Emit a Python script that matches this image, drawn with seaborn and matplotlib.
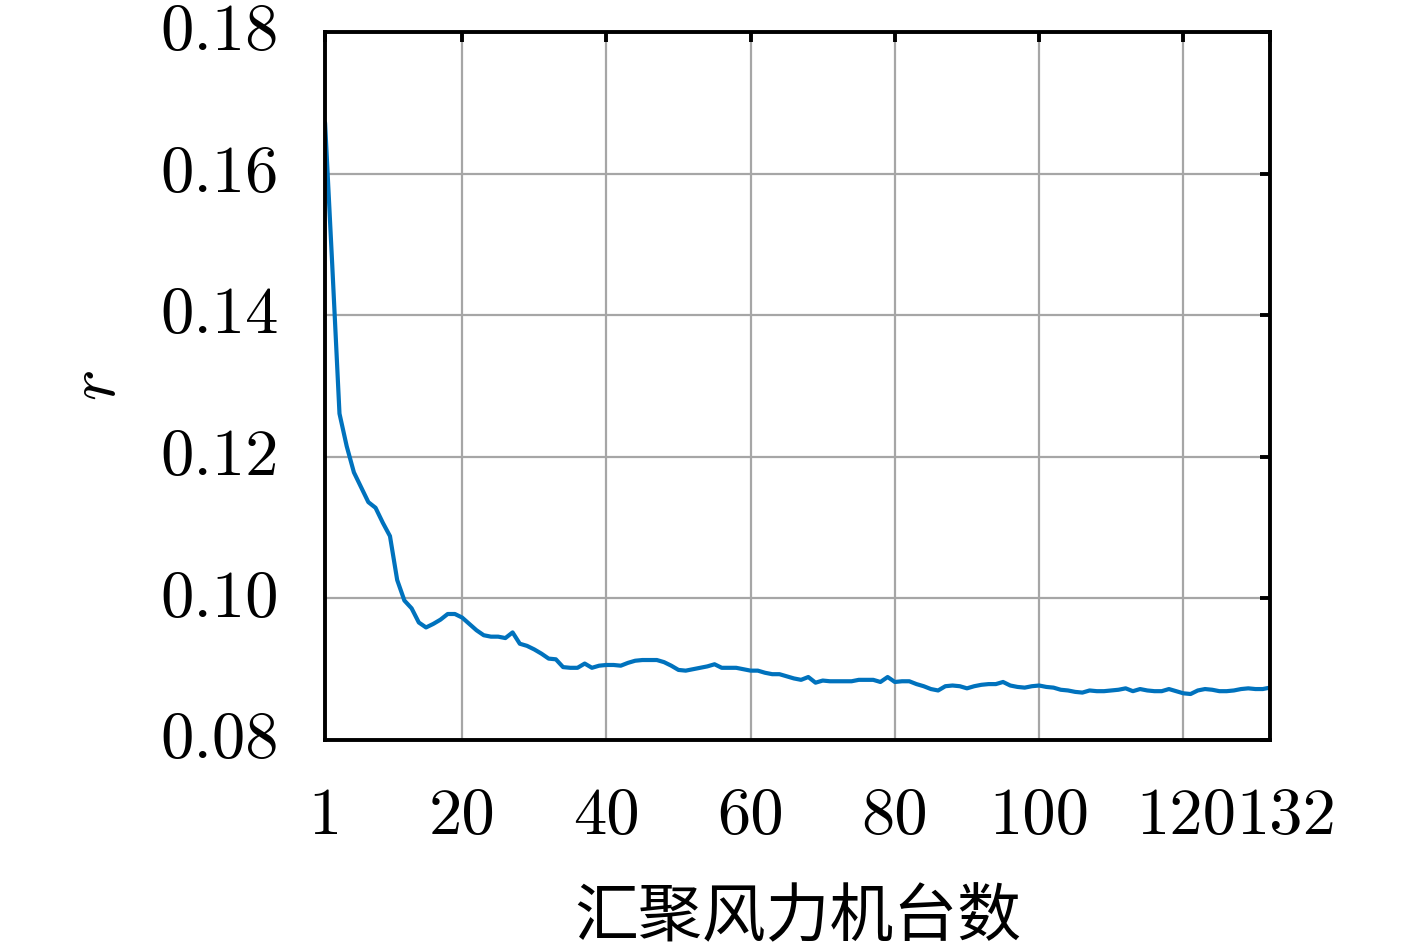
import numpy as np
import pandas as pd
import matplotlib
matplotlib.use("Agg")
import matplotlib.pyplot as plt
import matplotlib.transforms as mtransforms
import seaborn as sns

# number of aggregated turbines and the ratio r
turbines = list(range(1, 133))
r_values = [
    0.1672, 0.1470, 0.1261, 0.1215, 0.1178, 0.1157, 0.1136, 0.1128, 0.1107, 0.1088,
    0.1026, 0.0997, 0.0986, 0.0966, 0.0959, 0.0964, 0.0970, 0.0978, 0.0978, 0.0973,
    0.0964, 0.0955, 0.0948, 0.0946, 0.0946, 0.0944, 0.0952, 0.0936, 0.0933, 0.0928,
    0.0922, 0.0915, 0.0914, 0.0903, 0.0902, 0.0902, 0.0908, 0.0902, 0.0905, 0.0906,
    0.0906, 0.0905, 0.0909, 0.0912, 0.0913, 0.0913, 0.0913, 0.0910, 0.0905, 0.0899,
    0.0898, 0.0900, 0.0902, 0.0904, 0.0907, 0.0902, 0.0902, 0.0902, 0.0900, 0.0898,
    0.0898, 0.0895, 0.0893, 0.0893, 0.0890, 0.0887, 0.0885, 0.0889, 0.0881, 0.0884,
    0.0883, 0.0883, 0.0883, 0.0883, 0.0885, 0.0885, 0.0885, 0.0882, 0.0889, 0.0882,
    0.0883, 0.0883, 0.0879, 0.0876, 0.0872, 0.0870, 0.0876, 0.0877, 0.0876, 0.0873,
    0.0876, 0.0878, 0.0879, 0.0879, 0.0882, 0.0877, 0.0875, 0.0874, 0.0876, 0.0877,
    0.0875, 0.0874, 0.0871, 0.0870, 0.0868, 0.0867, 0.0870, 0.0869, 0.0869, 0.0870,
    0.0871, 0.0873, 0.0869, 0.0872, 0.0870, 0.0869, 0.0869, 0.0872, 0.0869, 0.0866,
    0.0865, 0.0870, 0.0872, 0.0871, 0.0869, 0.0869, 0.0870, 0.0872, 0.0873, 0.0872,
    0.0872, 0.0874,
]
x_ticks = [1, 20, 40, 60, 80, 100, 120, 132]
y_ticks = [0.08, 0.10, 0.12, 0.14, 0.16, 0.18]

df = pd.DataFrame({"n": turbines, "r": r_values})

sns.set_style("white")
plt.rcParams["mathtext.fontset"] = "cm"
plt.rcParams["font.family"] = ["Noto Sans CJK SC", "DejaVu Sans"]
plt.rcParams["text.color"] = "black"

fig = plt.figure(figsize=(14.17, 9.49), dpi=100)
ax = fig.add_axes([0.2294, 0.2202, 0.8962 - 0.2294, 0.9663 - 0.2202])

sns.lineplot(data=df, x="n", y="r", ax=ax, color="#0072BD", linewidth=3.0)

ax.set_xlim(1, 132)
ax.set_ylim(0.08, 0.18)
ax.set_xticks(x_ticks)
ax.set_xticklabels([str(t) for t in x_ticks], fontfamily="cmr10", fontsize=48, color="black")
ax.set_yticks(y_ticks)
ax.set_yticklabels([f"{t:.2f}" for t in y_ticks], fontfamily="cmr10", fontsize=48, color="black")

ax.grid(True, color="#a6a6a6", linewidth=1.6)
ax.set_axisbelow(True)
for s in ax.spines.values():
    s.set_visible(True)
    s.set_color("black")
    s.set_linewidth(2.8)

ax.tick_params(axis="both", which="major", direction="in", length=7, width=2.8,
               top=True, right=True, color="black")
ax.tick_params(axis="x", pad=34)
ax.tick_params(axis="y", pad=33)

ax.set_xlabel("汇聚风力机台数", fontsize=46, labelpad=27, color="black")
ax.set_ylabel("$r$", fontsize=48, labelpad=22, color="black")

fig.canvas.draw()
# last two x labels sit edge to edge in the original, nudge them apart a bit
xt = ax.xaxis.get_major_ticks()
for tick, dx in [(xt[-2], 0.03), (xt[-1], 0.16)]:
    tick.label1.set_transform(tick.label1.get_transform()
                              + mtransforms.ScaledTranslation(dx, 0, fig.dpi_scale_trans))
# y labels a touch higher so they centre on the grid lines
for tick in ax.yaxis.get_major_ticks():
    tick.label1.set_transform(tick.label1.get_transform()
                              + mtransforms.ScaledTranslation(0, 0.05, fig.dpi_scale_trans))

fig.savefig("out.png", dpi=100)
